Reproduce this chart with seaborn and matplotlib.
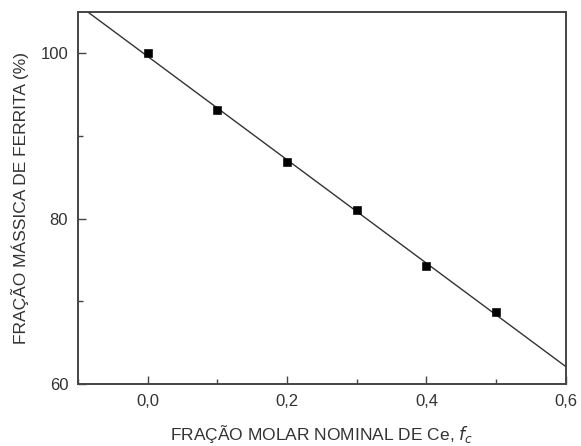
import numpy as np
import pandas as pd
import seaborn as sns
import matplotlib.pyplot as plt
from matplotlib.ticker import FuncFormatter, MultipleLocator

# valeurs
fracao_ce = [0.0, 0.1, 0.2, 0.3, 0.4, 0.5]
ferrita_pct = [100.0, 93.2, 86.8, 81.0, 74.3, 68.7]

sns.set_theme(style="ticks")
plt.rcParams['font.family'] = ['Liberation Sans', 'DejaVu Sans']
plt.rcParams['xtick.direction'] = 'in'
plt.rcParams['ytick.direction'] = 'in'

df = pd.DataFrame({"x": fracao_ce, "y": ferrita_pct})

# ajuste linear
a, b = np.polyfit(df["x"], df["y"], 1)
x_fit = np.array([-0.1, 0.6])
fit = pd.DataFrame({"x": x_fit, "y": a * x_fit + b})

fig = plt.figure(figsize=(5.81, 4.46), dpi=100)
ax = fig.add_axes([0.134, 0.139, 0.84, 0.834])

sns.lineplot(data=fit, x="x", y="y", ax=ax, color="#333333", lw=1.0)
sns.scatterplot(data=df, x="x", y="y", ax=ax, marker="s", color="black",
                s=30, edgecolor="black", zorder=3)

ax.set_xlim(-0.1, 0.6)
ax.set_ylim(60, 105)
ax.xaxis.set_major_locator(MultipleLocator(0.2))
ax.xaxis.set_minor_locator(MultipleLocator(0.1))
ax.yaxis.set_major_locator(MultipleLocator(20))
ax.yaxis.set_minor_locator(MultipleLocator(10))
ax.xaxis.set_major_formatter(FuncFormatter(lambda v, p: f"{v:.1f}".replace(".", ",")))
ax.yaxis.set_major_formatter(FuncFormatter(lambda v, p: f"{v:.0f}"))

ax.tick_params(which="major", direction="in", length=6, width=1.0,
               labelsize=12, colors="#444444", labelcolor="#333333", pad=7)
ax.tick_params(which="minor", direction="in", length=3.5, width=1.0, colors="#444444")
for s in ax.spines.values():
    s.set_color("#444444")
    s.set_linewidth(1.4)

ax.set_xlabel("FRAÇÃO MOLAR NOMINAL DE Ce, $f_c$", fontsize=12.5, color="#333333", labelpad=10)
ax.set_ylabel("FRAÇÃO MÁSSICA DE FERRITA (%)", fontsize=12.5, color="#333333", labelpad=8)

plt.savefig("out.png", dpi=100)
